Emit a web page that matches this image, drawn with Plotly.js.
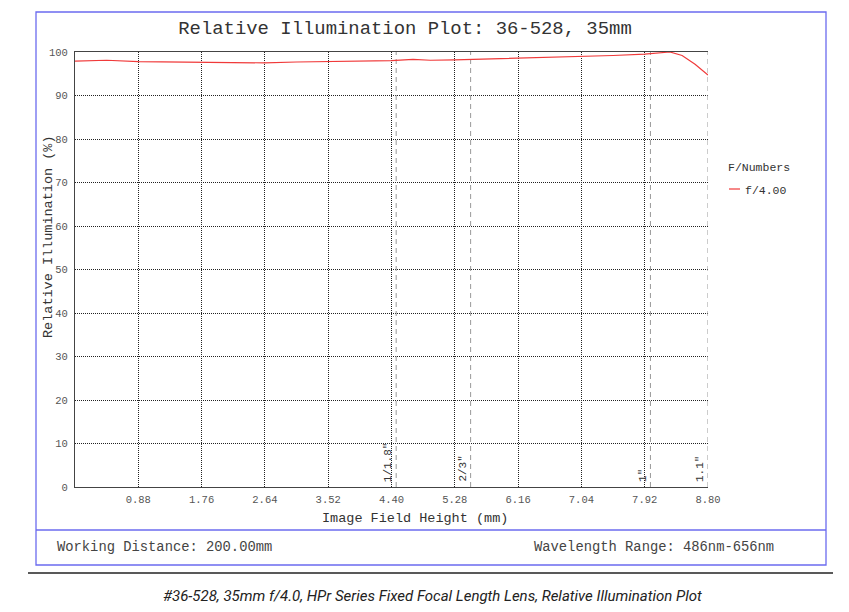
<!DOCTYPE html>
<html>
<head>
<meta charset="utf-8">
<script src="https://cdn.plot.ly/plotly-3.0.1.min.js"></script>
<style>html,body{margin:0;padding:0;background:#fff;}#chart{width:849px;height:612px;}</style>
</head>
<body>
<div id="chart"></div>
<script>
// Data
const fieldHeight = [0, 0.44, 0.88, 1.32, 1.76, 2.20, 2.64, 3.08, 3.52, 3.96, 4.40, 4.70, 4.94, 5.28, 5.72, 6.16, 6.60, 7.04, 7.48, 7.92, 8.27, 8.44, 8.62, 8.80];
const illumination = [97.9, 98.1, 97.8, 97.7, 97.6, 97.5, 97.5, 97.7, 97.8, 97.8, 98.0, 98.3, 98.1, 98.2, 98.4, 98.5, 98.7, 98.9, 99.2, 99.5, 100.0, 99.2, 97.2, 94.7];
const seriesName = 'f/4.00';
const legendTitle = 'F/Numbers';
const xTickVals = [0.88, 1.76, 2.64, 3.52, 4.40, 5.28, 6.16, 7.04, 7.92, 8.80];
const xTickText = ['0.88', '1.76', '2.64', '3.52', '4.40', '5.28', '6.16', '7.04', '7.92', '8.80'];
const yTickVals = [0, 10, 20, 30, 40, 50, 60, 70, 80, 90, 100];
const sensorPos = [4.465, 5.5, 8.0, 8.8];
const sensorLabels = ['1/1.8"', '2/3"', '1"', '1.1"'];
const titleText = 'Relative Illumination Plot: 36-528, 35mm';
const xTitle = 'Image Field Height (mm)';
const yTitle = 'Relative Illumination (%)';
const leftNote = 'Working Distance: 200.00mm';
const rightNote = 'Wavelength Range: 486nm-656nm';
const caption = '#36-528, 35mm f/4.0, HPr Series Fixed Focal Length Lens, Relative Illumination Plot';

const W = 849, H = 612;
const L = 75, R = 708, T = 52, B = 487;
const px = x => (x - L) / (R - L);
const py = y => (B - y) / (B - T);
const mono = 'Liberation Mono, Courier New, monospace';
const blue = '#6b6bef';
const red = '#f03a3a';

const traces = [];
sensorPos.forEach((s) => {
  traces.push({x: [s, s], y: [0, 100], mode: 'lines', showlegend: false, hoverinfo: 'skip',
    line: {color: '#999', width: 1, dash: '5px,4px'}});
});
traces.push({x: fieldHeight, y: illumination, mode: 'lines', name: seriesName, showlegend: false,
  line: {color: red, width: 1.2}});

const annotations = [
  {text: xTitle, xref: 'paper', yref: 'paper', x: px(415), y: py(518), showarrow: false,
   font: {family: mono, size: 13.5, color: '#333'}, xanchor: 'center', yanchor: 'middle'},
  {text: yTitle, xref: 'paper', yref: 'paper', x: px(48), y: py(237), showarrow: false, textangle: -90,
   font: {family: mono, size: 13.5, color: '#333'}, xanchor: 'center', yanchor: 'middle'},
  {text: leftNote, xref: 'paper', yref: 'paper', x: px(55), y: py(547), showarrow: false,
   font: {family: mono, size: 13.8, color: '#444'}, xanchor: 'left', yanchor: 'middle'},
  {text: rightNote, xref: 'paper', yref: 'paper', x: px(776), y: py(547), showarrow: false,
   font: {family: mono, size: 13.8, color: '#444'}, xanchor: 'right', yanchor: 'middle'},
  {text: '<i>' + caption + '</i>', xref: 'paper', yref: 'paper', x: px(432), y: py(596), showarrow: false,
   font: {family: 'Roboto, Noto Sans, sans-serif', size: 15, color: '#222'}, xanchor: 'center', yanchor: 'middle'},
  {text: legendTitle, xref: 'paper', yref: 'paper', x: px(726), y: py(167), showarrow: false,
   font: {family: mono, size: 11.5, color: '#333'}, xanchor: 'left', yanchor: 'middle'},
  {text: seriesName, xref: 'paper', yref: 'paper', x: px(743), y: py(190), showarrow: false,
   font: {family: mono, size: 11.5, color: '#333'}, xanchor: 'left', yanchor: 'middle'}
];
sensorPos.forEach((s, i) => {
  annotations.push({text: sensorLabels[i], x: s, y: 0, xref: 'x', yref: 'y', showarrow: false, textangle: -90,
    xanchor: 'right', yanchor: 'bottom', xshift: 0, yshift: 3,
    font: {family: mono, size: 11, color: '#333'}});
});

const shapes = [
  {type: 'rect', xref: 'paper', yref: 'paper', x0: px(36), x1: px(826), y0: py(565), y1: py(12),
   line: {color: blue, width: 1.3}, fillcolor: 'rgba(0,0,0,0)', layer: 'below'},
  {type: 'line', xref: 'paper', yref: 'paper', x0: px(36), x1: px(826), y0: py(530), y1: py(530),
   line: {color: blue, width: 1.3}},
  {type: 'line', xref: 'paper', yref: 'paper', x0: px(28), x1: px(833), y0: py(573), y1: py(573),
   line: {color: '#222', width: 1.5}},
  {type: 'line', xref: 'paper', yref: 'paper', x0: px(729), x1: px(740), y0: py(189), y1: py(189),
   line: {color: red, width: 1.2}}
];

const layout = {
  width: W, height: H,
  margin: {l: L, r: W - R, t: T, b: H - B, pad: 0},
  paper_bgcolor: '#fff', plot_bgcolor: '#fff',
  title: {text: titleText, font: {family: mono, size: 18.9, color: '#333'},
    x: 405 / W, xref: 'container', xanchor: 'center', y: 1 - 27 / H, yref: 'container', yanchor: 'middle'},
  xaxis: {range: [0, 8.8], tickvals: xTickVals, ticktext: xTickText, showgrid: true,
    gridcolor: '#222', griddash: '1px,1px', gridwidth: 1, zeroline: false,
    showline: true, linecolor: '#444', linewidth: 1, mirror: true, ticks: '', ticklen: 0,
    tickfont: {family: mono, size: 10.5, color: '#555'}, ticklabelstandoff: 2, fixedrange: true},
  yaxis: {range: [0, 100], tickvals: yTickVals, showgrid: true,
    gridcolor: '#222', griddash: '1px,1px', gridwidth: 1, zeroline: false,
    showline: true, linecolor: '#444', linewidth: 1, ticks: '', ticklen: 0,
    tickfont: {family: mono, size: 10.5, color: '#555'}, ticklabelstandoff: 4, fixedrange: true},
  showlegend: false,
  annotations: annotations,
  shapes: shapes
};

Plotly.newPlot('chart', traces, layout, {displayModeBar: false, staticPlot: true});
</script>
</body>
</html>
